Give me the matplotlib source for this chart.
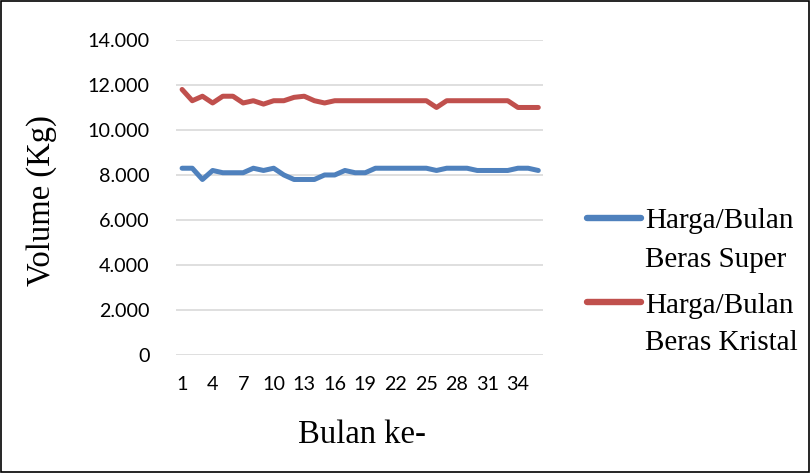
import numpy as np
import matplotlib
matplotlib.use('Agg')
import matplotlib.pyplot as plt
from matplotlib.patches import Rectangle
from matplotlib.lines import Line2D

# monthly values (Kg)
bulan = list(range(1, 37))
beras_super = [8300, 8300, 7800, 8200, 8100, 8100, 8100, 8300, 8200, 8300,
               8000, 7800, 7800, 7800, 8000, 8000, 8200, 8100, 8100, 8300,
               8300, 8300, 8300, 8300, 8300, 8200, 8300, 8300, 8300, 8200,
               8200, 8200, 8200, 8300, 8300, 8200]
beras_kristal = [11800, 11300, 11500, 11200, 11500, 11500, 11200, 11300, 11150, 11300,
                 11300, 11450, 11500, 11300, 11200, 11300, 11300, 11300, 11300, 11300,
                 11300, 11300, 11300, 11300, 11300, 11000, 11300, 11300, 11300, 11300,
                 11300, 11300, 11300, 11000, 11000, 11000]
xticks = list(range(1, 36, 3))
yticks = list(range(0, 14001, 2000))
ytick_labels = ['0', '2.000', '4.000', '6.000', '8.000', '10.000', '12.000', '14.000']
labels = [('Harga/Bulan', 'Beras Super'), ('Harga/Bulan', 'Beras Kristal')]
colors = ['#4F81BD', '#C0504D']

SERIF = 'Liberation Serif'
SANS = 'Lato'
W, H = 811, 473

fig = plt.figure(figsize=(8.11, 4.73), dpi=100)
ax = fig.add_axes([0.217, 0.2495, 0.453, 0.666])

ax.plot(bulan, beras_super, color=colors[0], lw=3.6, solid_capstyle='round')
ax.plot(bulan, beras_kristal, color=colors[1], lw=3.6, solid_capstyle='round')

ax.set_ylim(0, 14000)
ax.set_xlim(0.4, 36.5)
ax.set_yticks(yticks)
ax.set_yticklabels(ytick_labels, fontsize=14.2, family=SANS)
ax.set_xticks(xticks)
ax.set_xticklabels([str(t) for t in xticks], fontsize=14.2, family=SANS)
ax.tick_params(length=0)
ax.tick_params(axis='x', pad=15)
ax.tick_params(axis='y', pad=19)
ax.grid(axis='y', color='#D9D9D9', lw=1.2)
ax.set_axisbelow(True)
for s in ax.spines.values():
    s.set_visible(False)

ax.set_ylabel('Volume (Kg)', fontsize=23.5, family=SERIF)
ax.yaxis.set_label_coords(-0.325, 0.49)
ax.set_xlabel('Bulan ke-', fontsize=23.5, family=SERIF)
ax.xaxis.set_label_coords(0.505, -0.205)

# legend drawn by hand: handle sits on the first text line
handle_y = [218, 302]
baselines = [(228, 267), (313, 350)]
for c, hy, (b1, b2), (l1, l2) in zip(colors, handle_y, baselines, labels):
    fig.add_artist(Line2D([587 / W, 641 / W], [1 - hy / H, 1 - hy / H], color=c,
                          lw=4.6, solid_capstyle='round', transform=fig.transFigure))
    fig.text(645 / W, 1 - b1 / H, l1, fontsize=21, family=SERIF, va='baseline')
    fig.text(645 / W, 1 - b2 / H, l2, fontsize=21, family=SERIF, va='baseline')

fig.add_artist(Rectangle((0.001, 0.002), 0.997, 0.996, transform=fig.transFigure,
                         fill=False, lw=1.2, edgecolor='black'))

fig.savefig('out.png', dpi=100)
